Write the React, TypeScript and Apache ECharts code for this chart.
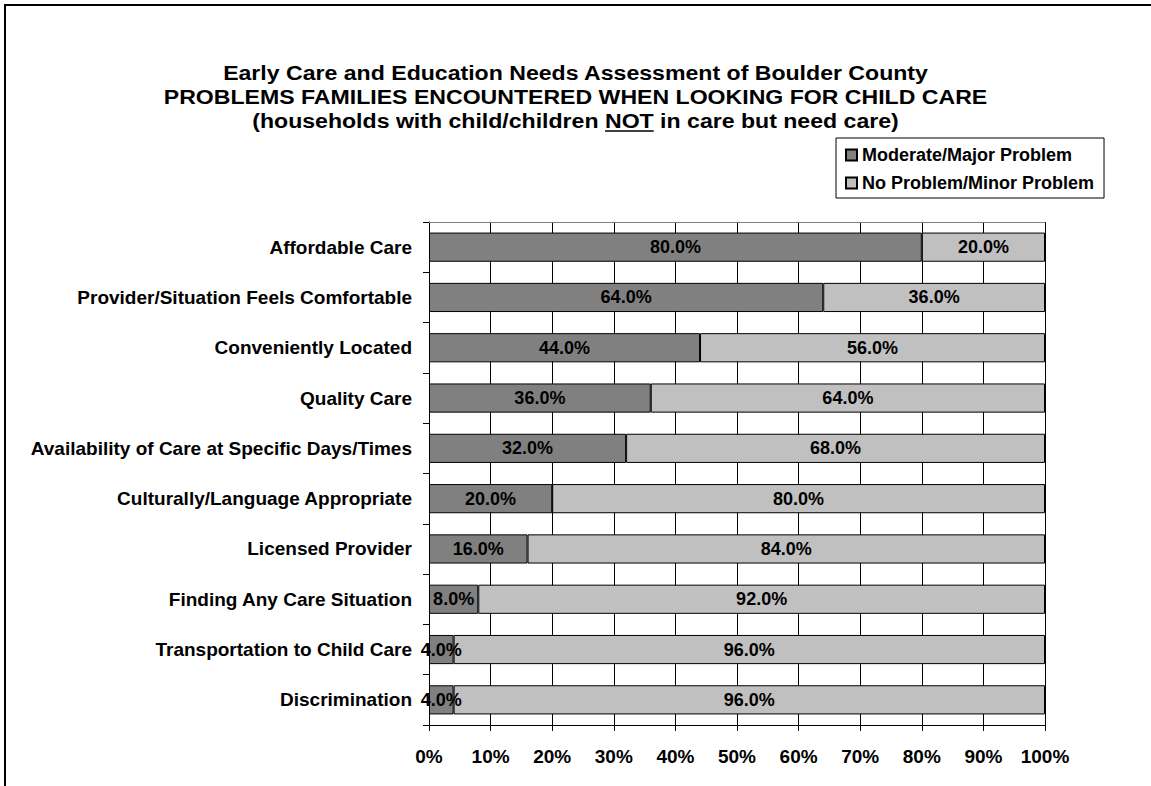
import React, { useEffect, useRef } from "react";
import * as echarts from "echarts";

const categories = [
  "Affordable Care",
  "Provider/Situation Feels Comfortable",
  "Conveniently Located",
  "Quality Care",
  "Availability of Care at Specific Days/Times",
  "Culturally/Language Appropriate",
  "Licensed Provider",
  "Finding Any Care Situation",
  "Transportation to Child Care",
  "Discrimination",
];
const moderateMajor = [80, 64, 44, 36, 32, 20, 16, 8, 4, 4];
const noProblemMinor = [20, 36, 56, 64, 68, 80, 84, 92, 96, 96];
const xTicks = [0, 10, 20, 30, 40, 50, 60, 70, 80, 90, 100];
const seriesNames = ["Moderate/Major Problem", "No Problem/Minor Problem"];
const titleLines = [
  "Early Care and Education Needs Assessment of Boulder County",
  "PROBLEMS FAMILIES ENCOUNTERED WHEN LOOKING FOR CHILD CARE",
  "(households with child/children NOT in care but need care)",
];

const FONT = "'Liberation Sans', Arial, sans-serif";

function measure(text: string, size: number) {
  const c = document.createElement("canvas");
  const ctx = c.getContext("2d");
  if (!ctx) return text.length * size * 0.6;
  ctx.font = `bold ${size}px 'Liberation Sans', Arial, sans-serif`;
  return ctx.measureText(text).width;
}

export default function App() {
  const ref = useRef<HTMLDivElement>(null);
  useEffect(() => {
    if (!ref.current) return;
    const chart = echarts.init(ref.current, undefined, { renderer: "svg" });
    const W = 1151;
    const cx = W / 2;
    const titleSize = 21;
    const titleScaleX = 1.1;
    const lineY = [73, 97, 121];
    const line3 = titleLines[2];
    const prefix = line3.slice(0, line3.indexOf("NOT"));
    const w3 = measure(line3, titleSize);
    const wPre = measure(prefix, titleSize);
    const wNot = measure("NOT", titleSize);
    const ulX = cx + (wPre - w3 / 2) * titleScaleX;
    const ulY = lineY[2] + 10;

    const labelStyle = {
      show: true,
      position: "inside",
      color: "#000",
      fontSize: 18,
      fontWeight: "bold",
      fontFamily: FONT,
      formatter: (p: any) => `${Number(p.value).toFixed(1)}%`,
    };

    chart.setOption({
      animation: false,
      backgroundColor: "#fff",
      legend: {
        orient: "vertical",
        left: 836,
        top: 138,
        padding: [7, 10, 5, 9],
        itemGap: 8,
        itemWidth: 11,
        itemHeight: 11,
        icon: "rect",
        borderColor: "#000",
        borderWidth: 1,
        backgroundColor: "#fff",
        textStyle: {
          fontSize: 18,
          fontWeight: "bold",
          fontFamily: FONT,
          color: "#000",
          lineHeight: 20,
        },
        data: seriesNames,
      },
      grid: { left: 429, right: 106, top: 222, bottom: 61 },
      xAxis: [
        {
          type: "value",
          min: 0,
          max: 100,
          interval: 10,
          position: "bottom",
          axisLine: { show: true, lineStyle: { color: "#000", width: 1 } },
          axisTick: { show: true, length: 6, lineStyle: { color: "#000" } },
          splitLine: { show: true, lineStyle: { color: "#000", width: 1 } },
          axisLabel: {
            margin: 22,
            color: "#000",
            fontSize: 19,
            fontWeight: "bold",
            fontFamily: FONT,
            formatter: (v: number) => (xTicks.includes(v) ? `${v}%` : ""),
          },
        },
        {
          type: "value",
          min: 0,
          max: 100,
          position: "top",
          axisLine: { show: true, lineStyle: { color: "#808080", width: 1 } },
          axisTick: { show: false },
          splitLine: { show: false },
          axisLabel: { show: false },
        },
      ],
      yAxis: {
        type: "category",
        inverse: true,
        data: categories,
        axisLine: { show: true, lineStyle: { color: "#000", width: 1 } },
        axisTick: { show: true, length: 6, lineStyle: { color: "#000" } },
        axisLabel: {
          margin: 17,
          color: "#000",
          fontSize: 19,
          fontWeight: "bold",
          fontFamily: FONT,
        },
      },
      series: [
        {
          name: seriesNames[0],
          type: "bar",
          stack: "total",
          barWidth: "58%",
          data: moderateMajor,
          itemStyle: { color: "#808080", borderColor: "#000", borderWidth: 1 },
          label: labelStyle,
        },
        {
          name: seriesNames[1],
          type: "bar",
          stack: "total",
          barWidth: "58%",
          data: noProblemMinor,
          itemStyle: { color: "#C0C0C0", borderColor: "#000", borderWidth: 1 },
          label: labelStyle,
        },
      ],
      graphic: [
        ...titleLines.map((t, i) => ({
          type: "text",
          x: cx,
          y: lineY[i],
          scaleX: titleScaleX,
          style: {
            text: t,
            align: "center",
            verticalAlign: "middle",
            fontSize: titleSize,
            fontWeight: "bold",
            fontFamily: FONT,
            fill: "#000",
          },
        })),
        {
          type: "line",
          shape: { x1: ulX, y1: ulY, x2: ulX + wNot * titleScaleX, y2: ulY },
          style: { stroke: "#000", lineWidth: 1.5 },
        },
        {
          type: "line",
          shape: { x1: 5, y1: 5, x2: 5, y2: 786 },
          style: { stroke: "#000", lineWidth: 2 },
        },
        {
          type: "line",
          shape: { x1: 4, y1: 5, x2: 1151, y2: 5 },
          style: { stroke: "#000", lineWidth: 2 },
        },
      ],
    });
    return () => chart.dispose();
  }, []);
  return (
    <div
      ref={ref}
      style={{ position: "fixed", left: 0, top: 0, width: 1151, height: 786 }}
    />
  );
}
